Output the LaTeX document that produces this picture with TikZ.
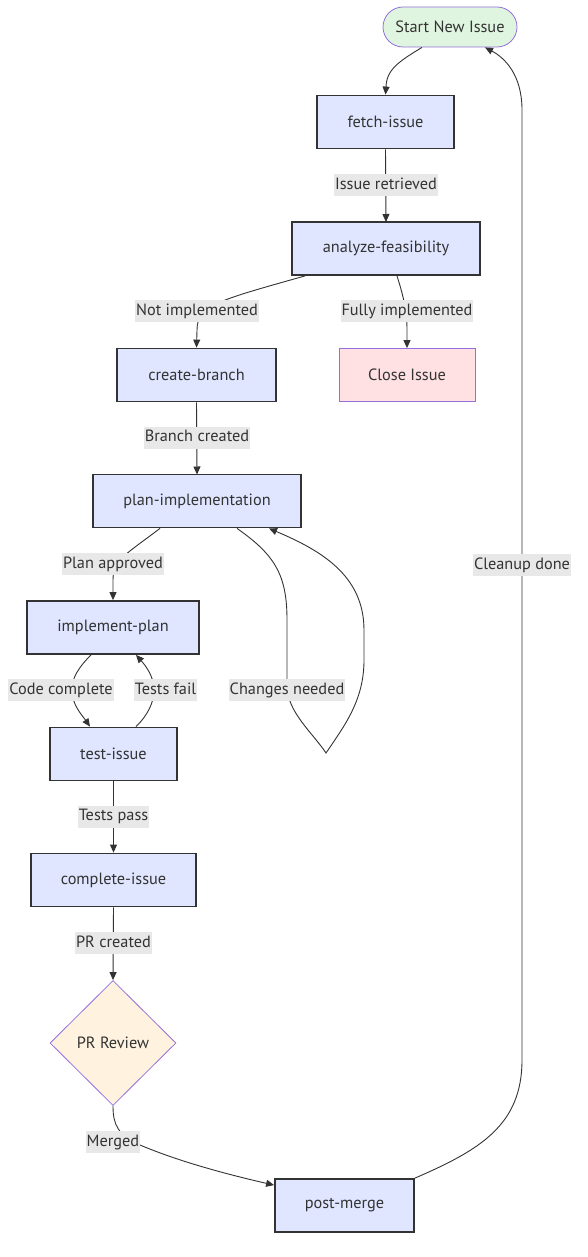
\documentclass[tikz,border=0pt]{standalone}
\usepackage{fontspec}
\setmainfont{PT Sans}
\usetikzlibrary{shapes.geometric,arrows.meta}
\definecolor{ink}{HTML}{333333}
\definecolor{procfill}{HTML}{E0E6FF}
\definecolor{startfill}{HTML}{E0F5E0}
\definecolor{closefill}{HTML}{FFE0E3}
\definecolor{revfill}{HTML}{FFF3E0}
\definecolor{purp}{HTML}{9370DB}
\definecolor{lblbg}{HTML}{E8E8E8}
\tikzset{
  every node/.style={font=\fontsize{16.3}{19}\selectfont, text=ink},
  proc/.style={draw=ink, line width=1.8pt, fill=procfill, minimum height=53pt, inner sep=0pt},
  startbox/.style={draw=purp, line width=0.8pt, fill=startfill, rounded corners=20pt, minimum height=40pt, minimum width=134pt, inner sep=0pt},
  closebox/.style={draw=purp, line width=0.8pt, fill=closefill, minimum height=53pt, minimum width=136pt, inner sep=0pt},
  revbox/.style={draw=purp, line width=0.8pt, fill=revfill, diamond, aspect=1, minimum width=126pt, minimum height=125pt, inner sep=0pt},
  lbl/.style={fill=lblbg, inner xsep=1pt, inner ysep=3pt, text height=12pt, text depth=4pt},
  edge/.style={draw=ink, line width=0.9pt, -{Triangle[length=8pt,width=7pt]}}
}
\begin{document}
\begin{tikzpicture}[x=1pt,y=-1pt]
\useasboundingbox (0,0) rectangle (587,1257);
% nodes
\node[startbox] (start) at (450,27) {Start New Issue};
\node[proc, minimum width=137pt] (fetch) at (385.5,122) {fetch-issue};
\node[proc, minimum width=188pt] (analyze) at (386,248.5) {analyze-feasibility};
\node[closebox] (close) at (407,375) {Close Issue};
\node[proc, minimum width=159pt] (create) at (196.5,375) {create-branch};
\node[proc, minimum width=208pt] (plan) at (197,501) {plan-implementation};
\node[proc, minimum width=172pt] (impl) at (113,627.5) {implement-plan};
\node[proc, minimum width=127pt] (test) at (113.5,754) {test-issue};
\node[proc, minimum width=165pt] (complete) at (113.5,880) {complete-issue};
\node[revbox] (review) at (113,1043) {PR Review};
\node[proc, minimum width=139pt] (pm) at (344.5,1205.5) {post-merge};
% edges
\draw[edge] ([xshift=-28pt]start.south) .. controls (398,62) and (386,70) .. (386,88) -- (fetch.north);
\draw[edge] (fetch.south) -- (386,222);
\draw[edge] ([xshift=-81pt]analyze.south) .. controls (220,300) and (197,305) .. (197,330) -- (create.north);
\draw[edge] ([xshift=11pt]analyze.south) .. controls (403,295) and (407,310) .. (407,330) -- (close.north);
\draw[edge] (create.south) -- (197,474.5);
\draw[edge] ([xshift=-37pt]plan.south) .. controls (125,555) and (113,560) .. (113,580) -- (impl.north);
\draw[edge] ([xshift=40pt]plan.south) .. controls (275,555) and (287,575) .. (287,620) -- (287,685)
   .. controls (287,712) and (312,732) .. (326,753)
   .. controls (345,725) and (364,700) .. (364,660) -- (364,630)
   .. controls (364,575) and (320,550) .. ([xshift=72pt]plan.south);
\draw[edge] ([xshift=-22pt]impl.south) .. controls (78,668) and (72,678) .. (72,690)
   .. controls (72,705) and (82,715) .. ([xshift=-23.5pt]test.north);
\draw[edge] ([xshift=22.5pt]test.north) .. controls (148,715) and (154,702) .. (154,690)
   .. controls (154,676) and (145,665) .. ([xshift=23pt]impl.south);
\draw[edge] (test.south) -- (complete.north);
\draw[edge] (complete.south) -- (review.north);
\draw[edge] (review.south) .. controls (113,1125) and (118,1135) .. (140,1145)
   .. controls (180,1162) and (230,1175) .. ([yshift=-7pt]pm.north west);
\draw[edge] (pm.north east) .. controls (480,1150) and (522,1125) .. (522,1060) -- (522,110)
   .. controls (522,75) and (505,58) .. ([xshift=35pt]start.south);
% labels
\node[lbl] (l1) at (386,185.5) {Issue retrieved};
\node[lbl] (l2) at (197,311) {Not implemented};
\node[lbl] (l3) at (407,311) {Fully implemented};
\node[lbl] (l4) at (197,437.5) {Branch created};
\node[lbl] (l5) at (113,564) {Plan approved};
\node[lbl] (l6) at (287,690) {Changes needed};
\node[lbl] (l7) at (61,690) {Code complete};
\node[lbl] (l8) at (165.5,690) {Tests fail};
\node[lbl] (l9) at (113.5,816.5) {Tests pass};
\node[lbl] (l10) at (113.5,943) {PR created};
\node[lbl] (l11) at (113,1142) {Merged};
\node[lbl] (l12) at (522,565) {Cleanup done};
\end{tikzpicture}
\end{document}
